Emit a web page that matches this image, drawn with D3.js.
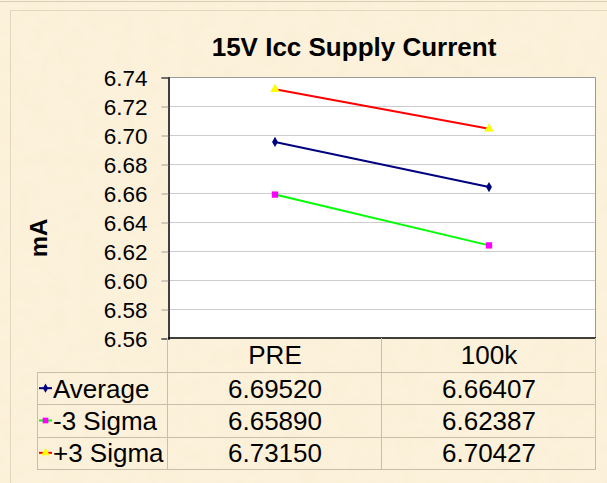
<!DOCTYPE html>
<html>
<head>
<meta charset="utf-8">
<script src="https://cdn.jsdelivr.net/npm/d3@7"></script>
<style>
  html, body { margin: 0; padding: 0; background: #fbeed4; }
  svg { display: block; font-family: Arial, "Liberation Sans", sans-serif; }
</style>
</head>
<body>
<div id="chart"></div>
<script>
// data
const categories = ["PRE", "100k"]
const seriesNames = ["Average", "-3 Sigma", "+3 Sigma"]
const average = [6.69520, 6.66407]
const minus3Sigma = [6.65890, 6.62387]
const plus3Sigma = [6.73150, 6.70427]
const yTicks = [6.56, 6.58, 6.60, 6.62, 6.64, 6.66, 6.68, 6.70, 6.72, 6.74]

const series = [
    { name: seriesNames[0], values: average, line: "#000080", marker: "#000080", shape: d3.symbolDiamond, size: 30 },
    { name: seriesNames[1], values: minus3Sigma, line: "#00ff00", marker: "#ff00ff", shape: d3.symbolSquare, size: 40 },
    { name: seriesNames[2], values: plus3Sigma, line: "#ff0000", marker: "#ffff00", shape: d3.symbolTriangle, size: 40 }
]

const width = 607,
    height = 483,
    plot = { left: 168, right: 596, top: 77, bottom: 338 },
    tableLeft = 37,
    tableBottom = 469

const svg = d3.select('#chart').append('svg')
    .attr('width', width)
    .attr('height', height)

// parchment texture
const defs = svg.append('defs')
const filt = defs.append('filter').attr('id', 'paper')
    .attr('x', 0).attr('y', 0).attr('width', '100%').attr('height', '100%')
filt.append('feTurbulence')
    .attr('type', 'fractalNoise')
    .attr('baseFrequency', 0.06)
    .attr('numOctaves', 3)
    .attr('seed', 4)
filt.append('feColorMatrix')
    .attr('type', 'matrix')
    .attr('values', '0 0 0 0 0.78  0 0 0 0 0.66  0 0 0 0 0.45  0 0 0 0.55 -0.2')

svg.append('rect').attr('width', width).attr('height', height).attr('fill', '#fcf1da')
svg.append('rect').attr('width', width).attr('height', height).attr('filter', 'url(#paper)').attr('opacity', 0.28)

// top strip and chart frame edges
svg.append('line').attr('x1', 0).attr('x2', width).attr('y1', 1.5).attr('y2', 1.5)
    .attr('stroke', '#d9cdb5')
svg.append('path').attr('d', `M10.5,${height}V10.5H${width}`)
    .attr('fill', 'none').attr('stroke', '#e2d6bd')

// title
svg.append('text')
    .attr('x', 354)
    .attr('y', 56)
    .attr('text-anchor', 'middle')
    .style('font-size', '26px')
    .style('font-weight', 'bold')
    .text('15V Icc Supply Current')

// scales
const x = d3.scaleBand()
    .domain(categories)
    .range([plot.left, plot.right])

const y = d3.scaleLinear()
    .domain([d3.min(yTicks), d3.max(yTicks)])
    .range([plot.bottom, plot.top])

// plot area
svg.append('rect')
    .attr('x', plot.left)
    .attr('y', plot.top)
    .attr('width', plot.right - plot.left)
    .attr('height', plot.bottom - plot.top)
    .attr('fill', '#ffffff')

svg.append('g')
    .attr('class', 'grid')
    .selectAll('line')
    .data(yTicks.slice(1, -1))
    .join('line')
    .attr('x1', plot.left)
    .attr('x2', plot.right)
    .attr('y1', d => Math.round(y(d)) + 0.5)
    .attr('y2', d => Math.round(y(d)) + 0.5)
    .attr('stroke', '#cccccc')

// plot border (top, right)
svg.append('path')
    .attr('d', `M${plot.left},${plot.top + 0.5}H${plot.right - 0.5}V${plot.bottom}`)
    .attr('fill', 'none')
    .attr('stroke', '#9a9a9a')

// y axis
const yAxis = svg.append('g')
    .attr('transform', `translate(${plot.left + 0.5},0.5)`)
    .call(d3.axisLeft(y).tickValues(yTicks).tickFormat(d3.format('.2f')).tickSize(7).tickPadding(14))
yAxis.select('.domain').attr('stroke', '#000').attr('stroke-width', 1.5)
yAxis.selectAll('.tick line').attr('stroke', '#a0a0a0')
yAxis.selectAll('.tick text')
    .style('font-size', '22.5px')
    .attr('fill', '#000')
    .attr('dy', '0.36em')

// x axis line
svg.append('line')
    .attr('x1', plot.left)
    .attr('x2', plot.right)
    .attr('y1', plot.bottom)
    .attr('y2', plot.bottom)
    .attr('stroke', '#000')
    .attr('stroke-width', 1.5)

// y axis title
svg.append('text')
    .attr('transform', 'translate(47,238) rotate(-90)')
    .attr('text-anchor', 'middle')
    .style('font-size', '24px')
    .style('font-weight', 'bold')
    .text('mA')

// lines and markers
const line = d3.line()
    .x((d, i) => x(categories[i]) + x.bandwidth() / 2)
    .y(d => y(d))

const sg = svg.append('g').selectAll('g')
    .data([series[2], series[0], series[1]])
    .join('g')

sg.append('path')
    .attr('d', d => line(d.values))
    .attr('fill', 'none')
    .attr('stroke', d => d.line)
    .attr('stroke-width', 2)

sg.selectAll('.pt')
    .data(d => d.values.map((v, i) => ({ v, i, s: d })))
    .join('path')
    .attr('class', 'pt')
    .attr('transform', d => `translate(${x(categories[d.i]) + x.bandwidth() / 2},${y(d.v)})`)
    .attr('d', d => d3.symbol(d.s.shape, d.s.size)())
    .attr('fill', d => d.s.marker)

// data table
const rows = d3.scaleBand()
    .domain(seriesNames)
    .range([372, tableBottom])

const tableStroke = '#c9bea9'
const table = svg.append('g').attr('class', 'table')

// horizontal rules
table.selectAll('.hrule')
    .data([rows.range()[0], ...seriesNames.map(n => rows(n) + rows.bandwidth())])
    .join('line')
    .attr('class', 'hrule')
    .attr('x1', tableLeft)
    .attr('x2', plot.right)
    .attr('y1', d => Math.round(d) + 0.5)
    .attr('y2', d => Math.round(d) + 0.5)
    .attr('stroke', tableStroke)

// vertical rules
table.append('line')
    .attr('x1', tableLeft + 0.5).attr('x2', tableLeft + 0.5)
    .attr('y1', rows.range()[0]).attr('y2', tableBottom)
    .attr('stroke', tableStroke)
table.selectAll('.vrule')
    .data([plot.left, x(categories[1]), plot.right])
    .join('line')
    .attr('class', 'vrule')
    .attr('x1', d => Math.round(d) - 0.5)
    .attr('x2', d => Math.round(d) - 0.5)
    .attr('y1', plot.bottom)
    .attr('y2', tableBottom)
    .attr('stroke', tableStroke)

// header
table.selectAll('.head')
    .data(categories)
    .join('text')
    .attr('class', 'head')
    .attr('x', d => x(d) + x.bandwidth() / 2)
    .attr('y', (plot.bottom + rows.range()[0]) / 2)
    .attr('dy', '0.36em')
    .attr('text-anchor', 'middle')
    .style('font-size', '26px')
    .text(d => d)

// rows
const row = table.selectAll('.row')
    .data(series)
    .join('g')
    .attr('class', 'row')
    .attr('transform', d => `translate(0,${rows(d.name) + rows.bandwidth() / 2})`)

row.append('line')
    .attr('x1', tableLeft + 2)
    .attr('x2', tableLeft + 15)
    .attr('stroke', d => d.line)
    .attr('stroke-width', 2)
row.append('path')
    .attr('transform', `translate(${tableLeft + 8.5},0)`)
    .attr('d', d => d3.symbol(d.shape, d.size * 0.8)())
    .attr('fill', d => d.marker)

row.append('text')
    .attr('x', tableLeft + 16)
    .attr('dy', '0.36em')
    .style('font-size', '26px')
    .text(d => d.name)

row.selectAll('.val')
    .data(d => d.values)
    .join('text')
    .attr('class', 'val')
    .attr('x', (d, i) => x(categories[i]) + x.bandwidth() / 2)
    .attr('dy', '0.36em')
    .attr('text-anchor', 'middle')
    .style('font-size', '26px')
    .text(d => d3.format('.5f')(d))
</script>
</body>
</html>
